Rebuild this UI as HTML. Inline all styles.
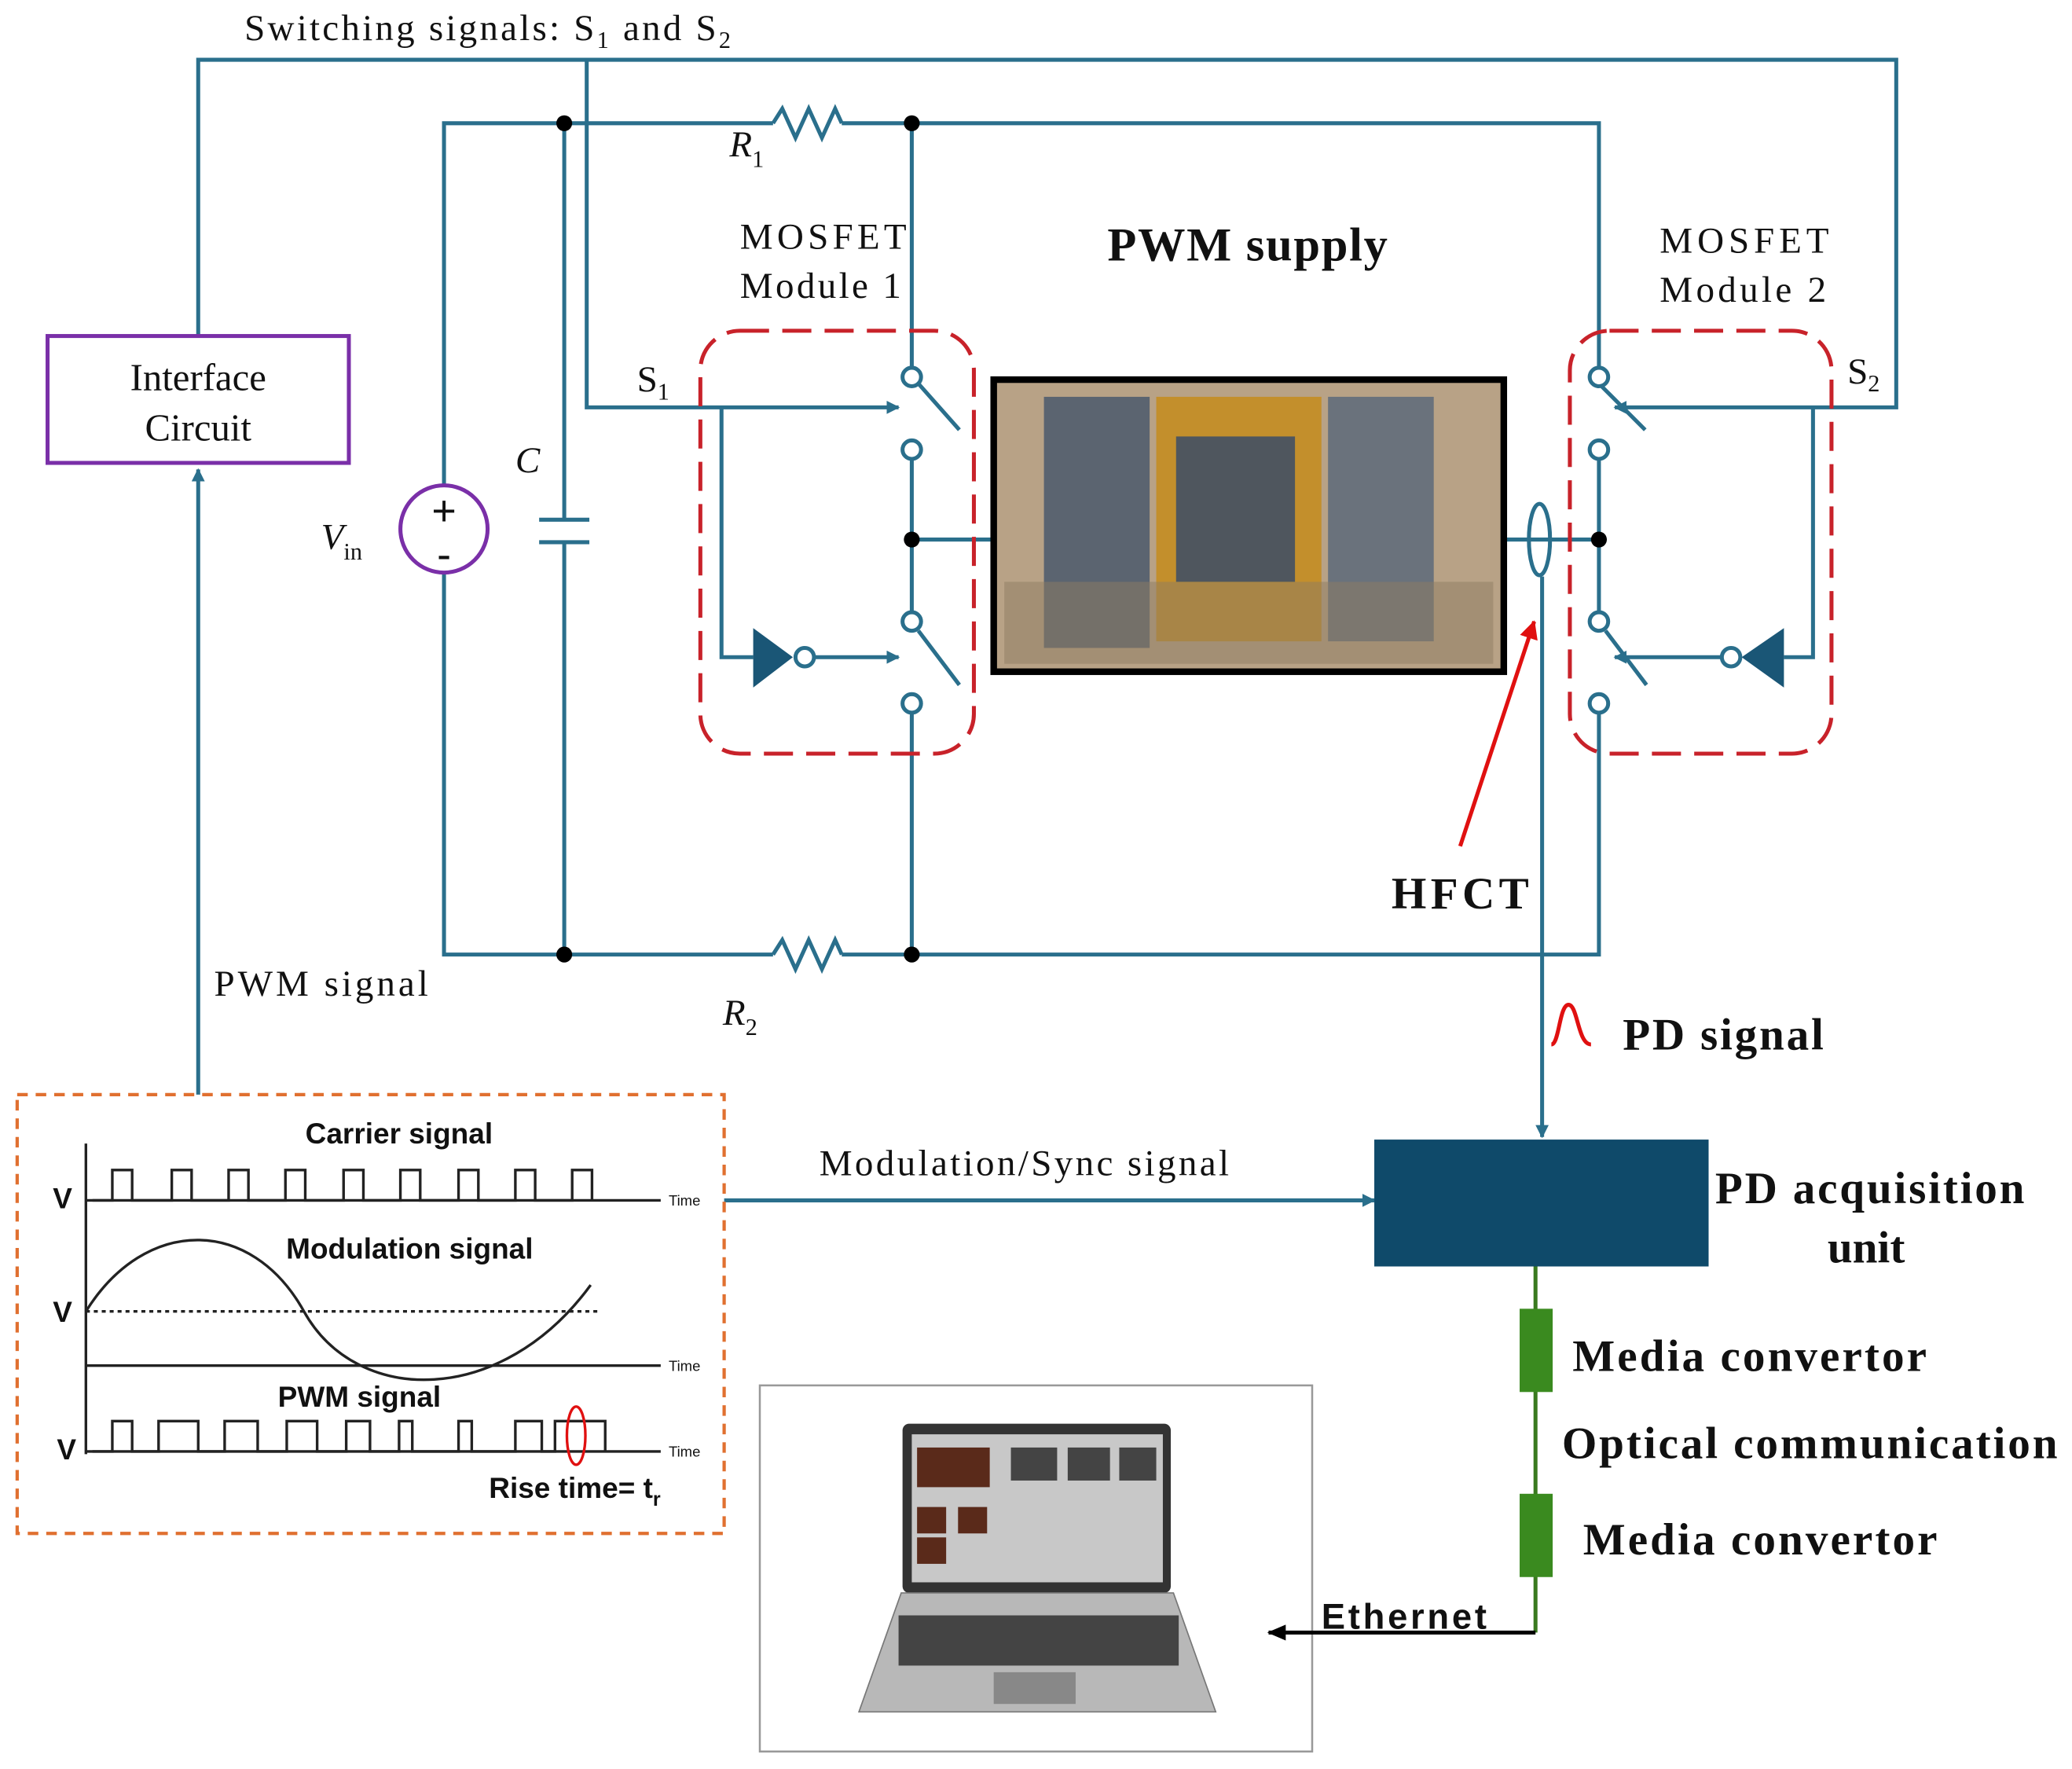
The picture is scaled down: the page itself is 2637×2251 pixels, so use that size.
<!DOCTYPE html>
<html><head><meta charset="utf-8"><style>
html,body{margin:0;padding:0;background:#fff}
svg{display:block}
text{font-family:"Liberation Serif",serif;fill:#111}
.s{font-family:"Liberation Sans",sans-serif}
</style></head><body>
<svg width="2637" height="2251" viewBox="0 0 1568 1338" xmlns="http://www.w3.org/2000/svg">
<defs>
<marker id="a" markerWidth="10" markerHeight="10" refX="9" refY="5" orient="auto" markerUnits="userSpaceOnUse"><path d="M0,0 L10,5 L0,10 z" fill="#2a6f8c"/></marker>
<marker id="k" markerWidth="14" markerHeight="12" refX="13" refY="6" orient="auto" markerUnits="userSpaceOnUse"><path d="M0,0 L14,6 L0,12 z" fill="#000"/></marker>
<marker id="r" markerWidth="14" markerHeight="14" refX="13" refY="7" orient="auto" markerUnits="userSpaceOnUse"><path d="M0,0 L14,7 L0,14 z" fill="#e01010"/></marker>
</defs>
<g fill="none" stroke="#2a6f8c" stroke-width="3">
<polyline points="150,253 150,45 1435,45 1435,308 1222,308" marker-end="url(#a)"/>
<polyline points="444,45 444,308 680,308" marker-end="url(#a)"/>
<line x1="150" y1="828" x2="150" y2="355" marker-end="url(#a)"/>
<polyline points="336,368 336,93 585,93"/>
<polyline points="585,93 592,82 602,104 612,82 622,104 632,82 637,93"/>
<polyline points="637,93 1210,93 1210,280"/>
<polyline points="336,432 336,722 585,722"/>
<polyline points="585,722 592,711 602,733 612,711 622,733 632,711 637,722"/>
<polyline points="637,722 1210,722 1210,538"/>
<line x1="427" y1="93" x2="427" y2="393"/><line x1="427" y1="410" x2="427" y2="722"/>
<line x1="408" y1="393" x2="446" y2="393"/><line x1="408" y1="410" x2="446" y2="410"/>
<line x1="690" y1="93" x2="690" y2="278"/>
<line x1="695" y1="290" x2="726" y2="325"/>
<line x1="690" y1="347" x2="690" y2="463"/>
<line x1="695" y1="477" x2="726" y2="518"/>
<line x1="690" y1="539" x2="690" y2="722"/>
<line x1="690" y1="408" x2="750" y2="408"/>
<polyline points="546,308 546,497 570,497"/>
<line x1="616" y1="497" x2="680" y2="497" marker-end="url(#a)"/>
<line x1="1210" y1="290" x2="1245" y2="325" />
<line x1="1210" y1="347" x2="1210" y2="463"/>
<line x1="1215" y1="477" x2="1246" y2="518"/>
<line x1="1140" y1="408" x2="1210" y2="408"/>
<polyline points="1372,308 1372,497 1350,497"/>
<line x1="1303" y1="497" x2="1222" y2="497" marker-end="url(#a)"/>
<line x1="1167" y1="436" x2="1167" y2="860" marker-end="url(#a)"/>
<line x1="548" y1="908" x2="1040" y2="908" marker-end="url(#a)"/>
</g>
<g fill="#fff" stroke="#2a6f8c" stroke-width="3">
<circle cx="690" cy="285" r="7"/><circle cx="690" cy="340" r="7"/><circle cx="690" cy="470" r="7"/><circle cx="690" cy="532" r="7"/>
<circle cx="1210" cy="285" r="7"/><circle cx="1210" cy="340" r="7"/><circle cx="1210" cy="470" r="7"/><circle cx="1210" cy="532" r="7"/>
<circle cx="609" cy="497" r="7"/><circle cx="1310" cy="497" r="7"/>
</g>
<path d="M570,475 L600,497 L570,520 z" fill="#1a5676"/>
<path d="M1350,475 L1318,497 L1350,520 z" fill="#1a5676"/>
<g fill="#000">
<circle cx="427" cy="93" r="6"/><circle cx="690" cy="93" r="6"/><circle cx="427" cy="722" r="6"/><circle cx="690" cy="722" r="6"/><circle cx="690" cy="408" r="6"/><circle cx="1210" cy="408" r="6"/>
</g>
<circle cx="336" cy="400" r="33" fill="#fff" stroke="#7a2fa8" stroke-width="3"/>
<text x="336" y="397" font-size="32" text-anchor="middle" class="s">+</text>
<text x="336" y="430" font-size="32" text-anchor="middle" class="s">-</text>
<rect x="36" y="254" width="228" height="96" fill="#fff" stroke="#7a2fa8" stroke-width="3"/>
<text x="150" y="295" font-size="29" text-anchor="middle">Interface</text>
<text x="150" y="333" font-size="29" text-anchor="middle">Circuit</text>
<rect x="530" y="250" width="207" height="320" rx="30" fill="none" stroke="#c8222a" stroke-width="3" stroke-dasharray="22,10"/>
<rect x="1188" y="250" width="198" height="320" rx="30" fill="none" stroke="#c8222a" stroke-width="3" stroke-dasharray="22,10"/>
<rect x="752" y="287" width="386" height="221" fill="#b8a286" stroke="#000" stroke-width="5"/>
<rect x="790" y="300" width="80" height="190" fill="#5b6470"/>
<rect x="1005" y="300" width="80" height="185" fill="#6a727c"/>
<rect x="875" y="300" width="125" height="185" fill="#c38f2c"/>
<rect x="890" y="330" width="90" height="110" fill="#4f565e"/>
<rect x="760" y="440" width="370" height="62" fill="#8e7c62" opacity="0.5"/>
<ellipse cx="1165" cy="408" rx="8" ry="27" fill="none" stroke="#2a6f8c" stroke-width="3"/>
<line x1="1105" y1="640" x2="1161" y2="470" stroke="#e01010" stroke-width="3" marker-end="url(#r)"/>
<path d="M1174,790 C1180,790 1180,760 1187,760 C1194,760 1194,790 1204,790" fill="none" stroke="#e01010" stroke-width="3"/>
<rect x="1040" y="862" width="253" height="96" fill="#0f4a6a"/>
<line x1="1162" y1="958" x2="1162" y2="1235" stroke="#3a7a1f" stroke-width="3"/>
<rect x="1150" y="990" width="25" height="63" fill="#3a8a1f"/>
<rect x="1150" y="1130" width="25" height="63" fill="#3a8a1f"/>
<rect x="13" y="828" width="535" height="332" fill="none" stroke="#e07030" stroke-width="2.5" stroke-dasharray="8,6"/>
<g stroke="#222" stroke-width="2" fill="none">
<line x1="65" y1="865" x2="65" y2="1100"/>
<line x1="65" y1="908" x2="500" y2="908"/>
<polyline points="70,908 85,908 85,885 100,885 100,908 130,908 130,885 145,885 145,908 173,908 173,885 188,885 188,908 216,908 216,885 231,885 231,908 260,908 260,885 275,885 275,908 303,908 303,885 318,885 318,908 347,908 347,885 362,885 362,908 390,908 390,885 405,885 405,908 433,908 433,885 448,885 448,908"/>
<line x1="65" y1="1033" x2="500" y2="1033"/>
<line x1="65" y1="992" x2="455" y2="992" stroke-dasharray="3,3"/>
<path d="M65,992 C110,920 190,920 230,992 C270,1064 380,1064 447,972"/>
<line x1="65" y1="1098" x2="500" y2="1098"/>
<polyline points="70,1098 85,1098 85,1075 100,1075 100,1098 120,1098 120,1075 150,1075 150,1098 170,1098 170,1075 195,1075 195,1098 217,1098 217,1075 240,1075 240,1098 262,1098 262,1075 280,1075 280,1098 302,1098 302,1075 312,1075 312,1098 347,1098 347,1075 357,1075 357,1098 390,1098 390,1075 410,1075 410,1098 420,1098 420,1075 458,1075 458,1098"/>
</g>
<ellipse cx="436" cy="1086" rx="7" ry="22" fill="none" stroke="#e01010" stroke-width="2"/>
<g class="s" font-weight="bold" font-size="22">
<text x="302" y="865" text-anchor="middle" class="s">Carrier signal</text>
<text x="310" y="952" text-anchor="middle" class="s">Modulation signal</text>
<text x="272" y="1064" text-anchor="middle" class="s">PWM signal</text>
<text x="370" y="1133" class="s">Rise time= t<tspan font-size="15" dy="6">r</tspan></text>
<text x="40" y="914" class="s">V</text><text x="40" y="1000" class="s">V</text><text x="43" y="1104" class="s">V</text>
</g>
<g class="s" font-size="11" fill="#555"><text x="506" y="912" class="s">Time</text><text x="506" y="1037" class="s">Time</text><text x="506" y="1102" class="s">Time</text></g>
<rect x="575" y="1048" width="418" height="277" fill="#fff" stroke="#999" stroke-width="1.5"/>
<rect x="683" y="1077" width="203" height="128" rx="5" fill="#333"/>
<rect x="690" y="1085" width="190" height="112" fill="#c8c8c8"/>
<rect x="694" y="1095" width="55" height="30" fill="#5a2a1a"/><rect x="765" y="1095" width="35" height="25" fill="#444"/><rect x="808" y="1095" width="32" height="25" fill="#444"/><rect x="847" y="1095" width="28" height="25" fill="#444"/>
<rect x="694" y="1140" width="22" height="20" fill="#5a2a1a"/><rect x="725" y="1140" width="22" height="20" fill="#5a2a1a"/><rect x="694" y="1163" width="22" height="20" fill="#5a2a1a"/>
<path d="M682,1205 L888,1205 L920,1295 L650,1295 z" fill="#b8b8b8" stroke="#777"/>
<rect x="680" y="1222" width="212" height="38" fill="#444"/>
<rect x="752" y="1265" width="62" height="24" fill="#888"/>
<polyline points="1162,1235 960,1235" fill="none" stroke="#000" stroke-width="3" marker-end="url(#k)"/>
<text x="185" y="30" font-size="28" textLength="368">Switching signals: S<tspan font-size="18" dy="6">1</tspan><tspan dy="-6"> and S</tspan><tspan font-size="18" dy="6">2</tspan></text>
<text x="552" y="118" font-size="28" font-style="italic">R<tspan font-size="18" dy="8" font-style="normal">1</tspan></text>
<text x="547" y="775" font-size="28" font-style="italic">R<tspan font-size="18" dy="8" font-style="normal">2</tspan></text>
<text x="560" y="188" font-size="28" textLength="126">MOSFET</text><text x="560" y="225" font-size="28" textLength="122">Module 1</text>
<text x="1256" y="191" font-size="28" textLength="128">MOSFET</text><text x="1256" y="228" font-size="28" textLength="126">Module 2</text>
<text x="838" y="197" font-size="36" font-weight="bold" textLength="212">PWM supply</text>
<text x="482" y="296" font-size="28">S<tspan font-size="18" dy="6">1</tspan></text>
<text x="1398" y="290" font-size="28">S<tspan font-size="18" dy="6">2</tspan></text>
<text x="390" y="357" font-size="28" font-style="italic">C</text>
<text x="243" y="415" font-size="28" font-style="italic">V<tspan font-size="18" dy="8" font-style="normal">in</tspan></text>
<text x="1053" y="687" font-size="34" font-weight="bold" textLength="104">HFCT</text>
<text x="1228" y="794" font-size="34" font-weight="bold" textLength="152">PD signal</text>
<text x="162" y="753" font-size="28" textLength="162">PWM signal</text>
<text x="620" y="889" font-size="28" textLength="310">Modulation/Sync signal</text>
<text x="1298" y="910" font-size="34" font-weight="bold" textLength="234">PD acquisition</text>
<text x="1383" y="955" font-size="34" font-weight="bold">unit</text>
<text x="1190" y="1037" font-size="34" font-weight="bold" textLength="268">Media convertor</text>
<text x="1182" y="1103" font-size="34" font-weight="bold" textLength="375">Optical communication</text>
<text x="1198" y="1176" font-size="34" font-weight="bold" textLength="268">Media convertor</text>
<text x="1000" y="1232" font-size="27" font-weight="bold" class="s" textLength="125">Ethernet</text>
</svg>
</body></html>
